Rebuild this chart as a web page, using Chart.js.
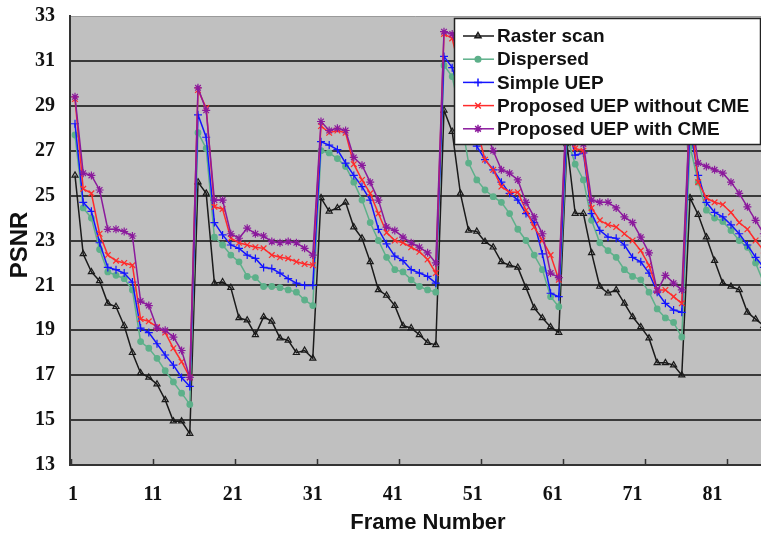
<!DOCTYPE html>
<html lang="en">
<head>
  <meta charset="UTF-8" />
  <title>PSNR per frame</title>
  <script src="https://cdn.jsdelivr.net/npm/chart.js"></script>
  <style>
    html, body { margin: 0; padding: 0; background: #fff; }
    #wrap { width: 761px; height: 538px; }
  </style>
</head>
<body>
<div id="wrap"><canvas id="psnrChart" width="761" height="538"></canvas></div>
<script>
  // one value per frame, one GOP (15 frames) per line
  const rasterScan = [
    25.9, 22.4, 21.6, 21.2, 20.2, 20.05, 19.2, 18.0, 17.1, 16.9, 16.6, 15.9, 14.95, 14.95, 14.4,
    25.6, 25.1, 21.1, 21.15, 20.9, 19.55, 19.45, 18.8, 19.6, 19.4, 18.65, 18.55, 18.0, 18.1, 17.75,
    24.9, 24.3, 24.45, 24.7, 23.6, 23.1, 22.05, 20.8, 20.55, 20.1, 19.2, 19.1, 18.8, 18.45, 18.35,
    28.8, 27.85, 25.1, 23.45, 23.4, 22.95, 22.7, 22.05, 21.9, 21.8, 20.9, 20.0, 19.55, 19.15, 18.9,
    27.3, 24.2, 24.2, 22.45, 20.95, 20.65, 20.8, 20.2, 19.6, 19.15, 18.65, 17.55, 17.55, 17.45, 17.0,
    24.9, 24.15, 23.15, 22.1, 21.1, 20.95, 20.8, 19.8, 19.5, 19.2
  ];
  const dispersed = [
    27.7, 24.45, 24.0, 22.6, 21.6, 21.45, 21.3, 20.8, 18.5, 18.2, 17.75, 17.2, 16.7, 16.2, 15.7,
    27.8, 27.1, 23.15, 22.8, 22.35, 22.05, 21.4, 21.35, 20.95, 20.95, 20.9, 20.8, 20.7, 20.35, 20.1,
    27.0, 26.9, 26.65, 26.3, 25.6, 24.8, 23.8, 23.0, 22.25, 21.7, 21.6, 21.25, 20.95, 20.8, 20.7,
    30.8, 30.3, 28.6, 26.45, 25.7, 25.25, 24.95, 24.7, 24.2, 23.5, 23.0, 22.35, 21.7, 20.5, 20.05,
    27.6, 26.4, 25.7, 23.9, 22.9, 22.55, 22.25, 21.7, 21.4, 21.25, 20.7, 19.95, 19.55, 19.35, 18.7,
    27.2, 25.6, 24.35, 24.0, 23.85, 23.45, 23.0, 22.7, 22.0, 21.1
  ];
  const simpleUEP = [
    28.2, 24.7, 24.3, 22.9, 21.8, 21.7, 21.55, 21.15, 19.1, 18.9, 18.4, 17.9, 17.45, 16.9, 16.5,
    28.6, 27.6, 23.8, 23.25, 22.8, 22.65, 22.35, 22.2, 21.8, 21.75, 21.55, 21.3, 21.1, 21.0, 21.0,
    27.4, 27.25, 27.05, 26.45, 25.9, 25.4, 24.8, 23.5, 22.85, 22.3, 22.1, 21.7, 21.55, 21.4, 21.1,
    31.2, 30.7, 29.5, 28.4, 27.2, 26.6, 26.15, 25.6, 25.1, 24.8, 24.2, 23.8, 22.4, 20.65, 20.5,
    28.3, 26.8, 26.9, 24.2, 23.45, 23.15, 23.1, 22.8, 22.25, 22.05, 21.55, 20.7, 20.2, 19.9, 19.8,
    28.0, 25.9, 24.7, 24.25, 24.05, 23.7, 23.3, 22.8, 22.25, 21.8
  ];
  const uepNoCME = [
    29.3, 25.3, 25.1, 23.3, 22.35, 22.1, 22.0, 21.9, 19.5, 19.4, 19.15, 18.9, 18.2, 17.6, 16.9,
    29.7, 28.9, 24.5, 24.4, 23.1, 22.9, 22.8, 22.7, 22.65, 22.35, 22.25, 22.2, 22.05, 21.95, 21.9,
    28.1, 27.8, 27.9, 27.8, 26.4, 25.7, 25.1, 24.2, 23.35, 23.0, 22.9, 22.7, 22.5, 22.15, 21.55,
    32.2, 32.0, 30.5, 29.2, 28.0, 26.6, 26.15, 25.4, 25.15, 25.15, 24.35, 23.6, 23.0, 22.35, 21.25,
    29.2, 27.1, 27.0, 24.45, 23.9, 23.7, 23.6, 23.3, 23.0, 22.55, 21.9, 20.8, 20.8, 20.5, 20.2,
    28.9, 25.6, 24.9, 24.7, 24.6, 24.25, 23.8, 23.5, 23.0, 22.55
  ];
  const uepWithCME = [
    29.4, 26.0, 25.9, 25.25, 23.5, 23.5, 23.4, 23.2, 20.3, 20.1, 19.1, 19.0, 18.7, 18.1, 16.9,
    29.8, 28.8, 24.8, 24.8, 23.3, 23.1, 23.55, 23.3, 23.2, 22.95, 22.9, 22.95, 22.9, 22.65, 22.35,
    28.3, 27.9, 28.0, 27.9, 26.7, 26.35, 25.6, 24.8, 23.6, 23.45, 23.15, 22.9, 22.7, 22.45, 22.0,
    32.3, 32.2, 31.0, 30.0, 29.0, 28.0, 27.0, 26.15, 26.0, 25.7, 24.7, 24.05, 23.3, 21.55, 21.35,
    29.5, 27.4, 27.3, 24.8, 24.7, 24.7, 24.45, 24.05, 23.8, 23.15, 22.45, 20.75, 21.45, 21.1, 20.8,
    29.0, 26.45, 26.3, 26.15, 26.0, 25.6, 25.1, 24.5, 23.9, 23.3
  ];

  const seriesNames = ["Raster scan", "Dispersed", "Simple UEP", "Proposed UEP without CME", "Proposed UEP with CME"];
  const xTickLabels = [1, 11, 21, 31, 41, 51, 61, 71, 81];
  const yTickLabels = [13, 15, 17, 19, 21, 23, 25, 27, 29, 31, 33];

  const frames = rasterScan.map((v, i) => i + 1);
  const toPoints = arr => arr.map((v, i) => ({ x: frames[i], y: v }));

  // the original's labels drift a little left of their tick marks
  const labelValue = n => n - 0.25 - (n - 1) * 0.025;

  const tickFont = { family: "'Liberation Serif', serif", size: 20, weight: "bold" };

  function line(label, data, color, style, radius, bg, order) {
    return {
      label: label,
      data: toPoints(data),
      borderColor: color,
      backgroundColor: bg,
      borderWidth: 1.5,
      pointStyle: style,
      pointRadius: radius,
      pointBorderColor: color,
      pointBackgroundColor: bg,
      pointBorderWidth: 1.2,
      tension: 0,
      order: order
    };
  }

  const plotDecor = {
    id: "plotDecor",
    beforeDraw(chart) {
      const { ctx, chartArea: a } = chart;
      ctx.save();
      ctx.fillStyle = "#c0c0c0";
      ctx.fillRect(a.left, a.top, a.right - a.left, a.bottom - a.top);
      ctx.strokeStyle = "#9a9a9a";
      ctx.lineWidth = 1;
      ctx.beginPath();
      ctx.moveTo(a.left, a.top + 0.5);
      ctx.lineTo(a.right, a.top + 0.5);
      ctx.stroke();
      ctx.restore();
    },
    afterDraw(chart) {
      const { ctx, chartArea: a } = chart;
      const xs = chart.scales.x;
      ctx.save();
      // small inward tick marks between categories
      ctx.strokeStyle = "#333";
      ctx.lineWidth = 1.5;
      xTickLabels.forEach(v => {
        const px = Math.round(xs.getPixelForValue(v - 0.5)) + 0.5;
        ctx.beginPath();
        ctx.moveTo(px, a.bottom - 6);
        ctx.lineTo(px, a.bottom);
        ctx.stroke();
      });
      // axis titles
      ctx.fillStyle = "#111";
      ctx.textAlign = "center";
      ctx.textBaseline = "middle";
      ctx.font = "bold 22px 'Liberation Sans', Arial, sans-serif";
      ctx.fillText("Frame Number", 428, 523);
      ctx.translate(20, 245);
      ctx.rotate(-Math.PI / 2);
      ctx.font = "bold 24px 'Liberation Sans', Arial, sans-serif";
      ctx.fillText("PSNR", 0, 0);
      ctx.restore();
    }
  };

  const boxLegend = {
    id: "boxLegend",
    afterDraw(chart) {
      const ctx = chart.ctx;
      const left = 454.5, top = 18.5, w = 306, h = 126;
      ctx.save();
      ctx.fillStyle = "#fff";
      ctx.fillRect(left, top, w, h);
      ctx.strokeStyle = "#222";
      ctx.lineWidth = 1.5;
      ctx.strokeRect(left, top, w, h);
      ctx.font = "bold 19px 'Liberation Sans', Arial, sans-serif";
      ctx.textBaseline = "middle";
      chart.data.datasets.forEach((ds, i) => {
        const y = 36 + i * 23.2;
        ctx.strokeStyle = ds.borderColor;
        ctx.lineWidth = 1.5;
        ctx.beginPath();
        ctx.moveTo(463, y);
        ctx.lineTo(494, y);
        ctx.stroke();
        ctx.fillStyle = ds.pointBackgroundColor;
        Chart.helpers.drawPoint(ctx, {
          pointStyle: ds.pointStyle, radius: ds.pointRadius, borderWidth: ds.pointBorderWidth, rotation: 0
        }, 478, y);
        ctx.fillStyle = "#111";
        ctx.fillText(seriesNames[i], 497, y + 1);
      });
      ctx.restore();
    }
  };

  new Chart(document.getElementById("psnrChart"), {
    type: "line",
    data: {
      datasets: [
        line(seriesNames[0], rasterScan, "#1a1a1a", "triangle", 3.5, "rgba(0,0,0,0)", 5),
        line(seriesNames[1], dispersed, "#5db08a", "circle", 2.8, "#5db08a", 4),
        line(seriesNames[2], simpleUEP, "#1414ff", "cross", 4, "#1414ff", 3),
        line(seriesNames[3], uepNoCME, "#ff2b2b", "crossRot", 4, "#ff2b2b", 2),
        line(seriesNames[4], uepWithCME, "#8b1a9c", "star", 4, "#8b1a9c", 1)
      ]
    },
    options: {
      responsive: false,
      animation: false,
      devicePixelRatio: 1,
      layout: { autoPadding: false, padding: { top: 16, right: 0, left: 0, bottom: 0 } },
      plugins: {
        legend: { display: false },
        tooltip: { enabled: false }
      },
      scales: {
        x: {
          type: "linear",
          min: 0.39,
          max: 84.66,
          afterBuildTicks: scale => {
            scale.ticks = xTickLabels.map(n => ({ value: labelValue(n), label: String(n) }));
          },
          afterFit: scale => {
            scale.height = 73;
            scale.paddingLeft = 0;
            scale.paddingRight = 0;
          },
          grid: { display: false },
          border: { display: true, color: "#333", width: 2 },
          ticks: {
            font: tickFont, color: "#111", padding: 10, maxRotation: 0, autoSkip: false,
            callback: (v, i) => String(xTickLabels[i])
          }
        },
        y: {
          min: 13,
          max: 33,
          afterBuildTicks: scale => { scale.ticks = yTickLabels.map(v => ({ value: v })); },
          afterFit: scale => {
            scale.width = 70;
            scale.paddingTop = 0;
            scale.paddingBottom = 0;
          },
          grid: {
            color: c => (c.tick && c.tick.value === 33 ? "rgba(0,0,0,0)" : "#3a3a3a"),
            lineWidth: 2,
            drawTicks: false
          },
          border: { display: true, color: "#333", width: 2 },
          ticks: { font: tickFont, color: "#111", padding: 15 }
        }
      }
    },
    plugins: [plotDecor, boxLegend]
  });
</script>
</body>
</html>
